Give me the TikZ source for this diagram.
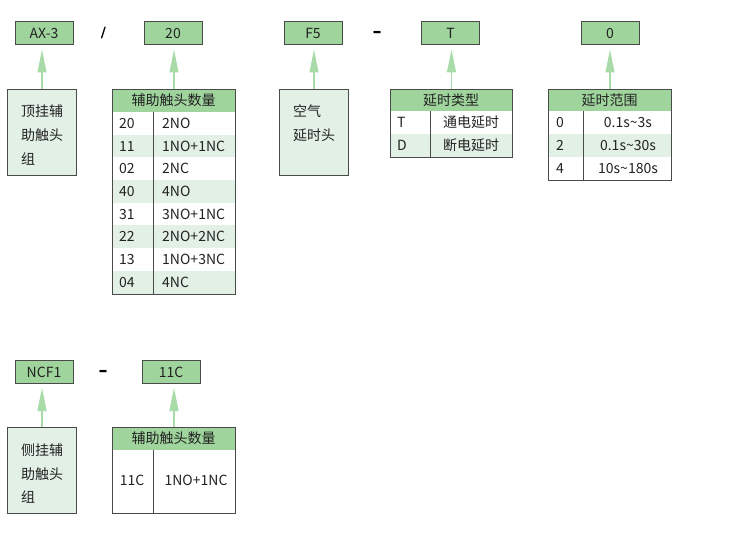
\documentclass[tikz,border=0pt]{standalone}
\usepackage{fontspec}
\setmainfont{Noto Sans CJK SC}
\newfontfamily\sepfont{DejaVu Sans}
\usetikzlibrary{arrows.meta}
\definecolor{hdr}{HTML}{A0D49D}
\definecolor{lg}{HTML}{E2F0E5}
\definecolor{bd}{HTML}{4A4A4A}
\definecolor{arrc}{HTML}{A8DBA8}
\definecolor{txt}{HTML}{222222}
\begin{document}
\begin{tikzpicture}[x=1pt,y=-1pt,
  font=\fontsize{14}{16}\selectfont, text=txt,
  codebox/.style={draw=bd, line width=1pt, fill=hdr, minimum width=58pt, minimum height=23pt, inner sep=0pt},
  descbox/.style={draw=bd, line width=1pt, fill=lg, inner sep=0pt, anchor=north west},
  frame/.style={draw=bd, line width=1pt, inner sep=0pt, anchor=north west},
  lbl/.style={inner sep=0pt},
  link/.style={draw=arrc, line width=1.3pt, -{Triangle[width=9pt,length=23pt]}},
  sep/.style={font=\sepfont\bfseries\fontsize{18}{18}\selectfont, inner sep=0pt, text=black}]
\useasboundingbox (0,0) rectangle (750,548);

% ---------- code boxes ----------
\node[codebox] (c1) at (44,33.5) {AX-3};
\node[codebox] (c2) at (173,33.5) {20};
\node[codebox] (c3) at (313,33.5) {F5};
\node[codebox] (c4) at (450.5,33.5) {T};
\node[codebox] (c5) at (610,33.5) {0};
\node[codebox] (c6) at (44,372) {NCF1};
\node[codebox] (c7) at (171,372) {11C};

\node[sep, font=\sepfont\bfseries\fontsize{14}{14}\selectfont] (s1) at (103.5,33) {/};
\node[sep] (s2) at (377,34) {–};
\node[sep] (s3) at (103,373) {–};

% ---------- description boxes ----------
\node[descbox, minimum width=69pt, minimum height=86pt] (d1) at (7,89) {};
\node[lbl, anchor=west] (d1a) at (21,111) {顶挂辅};
\node[lbl, anchor=west] (d1b) at (21,135) {助触头};
\node[lbl, anchor=west] (d1c) at (21,159) {组};

\node[descbox, minimum width=69pt, minimum height=86pt] (d2) at (279,89) {};
\node[lbl, anchor=west] (d2a) at (293,111) {空气};
\node[lbl, anchor=west] (d2b) at (293,135) {延时头};

\node[descbox, minimum width=69pt, minimum height=86pt] (d3) at (7,427) {};
\node[lbl, anchor=west] (d3a) at (21,450) {侧挂辅};
\node[lbl, anchor=west] (d3b) at (21,474) {助触头};
\node[lbl, anchor=west] (d3c) at (21,497) {组};

% ---------- table: 辅助触头数量 (top) ----------
\fill[hdr] (112,89) rectangle (235,112);
\node[lbl] (t1h) at (173.5,100.5) {辅助触头数量};
\foreach \a/\b [count=\i] in {20/2NO,11/1NO+1NC,02/2NC,40/4NO,31/3NO+1NC,22/2NO+2NC,13/1NO+3NC,04/4NC}{
  \pgfmathsetmacro\yc{112+22.7*(\i-0.5)}
  \ifodd\i\relax\else\fill[lg] (112.5,\yc-11.35) rectangle (234.5,\yc+11.35);\fi
  \node[lbl, anchor=west] (t1a\i) at (119,\yc) {\a};
  \node[lbl, anchor=west] (t1b\i) at (162,\yc) {\b};
}
\draw[bd, line width=1pt] (153,112) -- (153,293.6);
\node[frame, minimum width=123pt, minimum height=204.6pt] (t1) at (112,89) {};

% ---------- table: 延时类型 ----------
\fill[hdr] (390,89) rectangle (512,111);
\node[lbl] (t2h) at (451,100) {延时类型};
\fill[lg] (390.5,134) rectangle (511.5,157);
\node[lbl, anchor=west] (t2a1) at (397,122.5) {T};
\node[lbl] (t2b1) at (471,122.5) {通电延时};
\node[lbl, anchor=west] (t2a2) at (397,145.5) {D};
\node[lbl] (t2b2) at (471,145.5) {断电延时};
\draw[bd, line width=1pt] (430,111) -- (430,157);
\node[frame, minimum width=122pt, minimum height=68pt] (t2) at (390,89) {};

% ---------- table: 延时范围 ----------
\fill[hdr] (548,89) rectangle (671,111);
\node[lbl] (t3h) at (609.5,100) {延时范围};
\fill[lg] (548.5,134) rectangle (670.5,157);
\node[lbl, anchor=west] (t3a1) at (556,122.5) {0};
\node[lbl] (t3b1) at (628,122.5) {0.1s\textasciitilde 3s};
\node[lbl, anchor=west] (t3a2) at (556,145.5) {2};
\node[lbl] (t3b2) at (628,145.5) {0.1s\textasciitilde 30s};
\node[lbl, anchor=west] (t3a3) at (556,168.5) {4};
\node[lbl] (t3b3) at (628,168.5) {10s\textasciitilde 180s};
\draw[bd, line width=1pt] (583,111) -- (583,180);
\node[frame, minimum width=123pt, minimum height=91pt] (t3) at (548,89) {};

% ---------- table: 辅助触头数量 (bottom) ----------
\fill[hdr] (112,427) rectangle (235,450);
\node[lbl] (t4h) at (173.5,438.5) {辅助触头数量};
\node[lbl] (t4a) at (132,480) {11C};
\node[lbl] (t4b) at (196,480) {1NO+1NC};
\draw[bd, line width=1pt] (153,450) -- (153,513);
\node[frame, minimum width=123pt, minimum height=86pt] (t4) at (112,427) {};

% ---------- connectors ----------
\draw[link] (d1.north) -- ([yshift=-4pt]d1.north |- c1.south);
\draw[link] (t1.north) -- ([yshift=-4pt]t1.north |- c2.south);
\draw[link] (d2.north) -- ([yshift=-4pt]d2.north |- c3.south);
\draw[link] (t2.north) -- ([yshift=-4pt]t2.north |- c4.south);
\draw[link] (t3.north) -- ([yshift=-4pt]t3.north |- c5.south);
\draw[link] (d3.north) -- ([yshift=-4pt]d3.north |- c6.south);
\draw[link] (t4.north) -- ([yshift=-4pt]t4.north |- c7.south);
\end{tikzpicture}
\end{document}
